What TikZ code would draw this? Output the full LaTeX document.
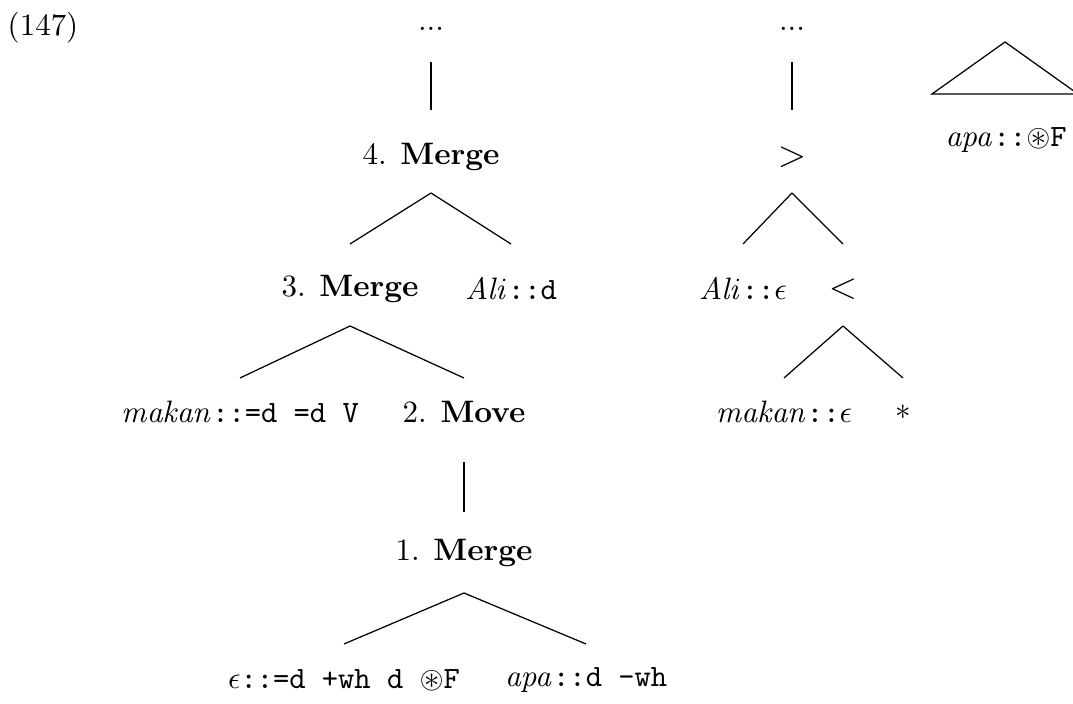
\documentclass[tikz,border=0pt]{standalone}
\usepackage{amssymb}
\usetikzlibrary{calc}
\tikzset{
  lbl/.style={inner sep=0pt},
  branch/.style={line width=0.4pt},
}
\begin{document}
\begin{tikzpicture}[x=0.3226pt,y=-0.3226pt]
  \useasboundingbox (0,0) rectangle (1073,704);
  \node[lbl] (ex) at (43,28) {(147)};
  % derivation tree
  \node[lbl] (dots) at (431,29) {...};
  \node[lbl] (m4) at (431,157) {4. \textbf{Merge}};
  \node[lbl] (m3) at (350,289) {3. \textbf{Merge}};
  \node[lbl] (ali) at (511,289) {$\mathit{Ali}$\texttt{::d}};
  \node[lbl] (makan) at (240,412) {$\mathit{makan}$\texttt{::=d =d V}};
  \node[lbl] (mv2) at (464,412) {2. \textbf{Move}};
  \node[lbl] (m1) at (464,553) {1. \textbf{Merge}};
  \node[lbl] (eps) at (344,680) {$\epsilon$\texttt{::=d +wh d }$\circledast$\texttt{F}};
  \node[lbl] (apa) at (586,680) {$\mathit{apa}$\texttt{::d -wh}};
  % derived tree
  \node[lbl] (rdots) at (792,29) {...};
  \node[lbl,font=\large] (gt) at (792,157) {$>$};
  \node[lbl] (alie) at (743,289) {$\mathit{Ali}$\texttt{::}$\epsilon$};
  \node[lbl,font=\large] (lt) at (843,289) {$<$};
  \node[lbl] (makane) at (784,412) {$\mathit{makan}$\texttt{::}$\epsilon$};
  \node[lbl] (star) at (903,412) {$*$};
  % moved chunk
  \node[lbl] (apaF) at (1006,140) {$\mathit{apa}$\texttt{::}$\circledast$\texttt{F}};
  \draw[branch] ($(apaF)+(-1,-98)$) -- ($(apaF)+(-74,-46)$) -- ($(apaF)+(72,-46)$) -- cycle;
  \foreach \p/\c/\a/\b in {dots/m4/33/47, rdots/gt/33/47,
      m4/m3/36/45, m4/ali/36/45, gt/alie/36/45, gt/lt/36/45,
      m3/makan/37/34, m3/mv2/37/34, lt/makane/37/34, lt/star/37/34,
      mv2/m1/50/41, m1/eps/40/36, m1/apa/40/36}
    \draw[branch] ($(\p)+(0,\a)$) -- ($(\c)+(0,-\b)$);
\end{tikzpicture}
\end{document}
